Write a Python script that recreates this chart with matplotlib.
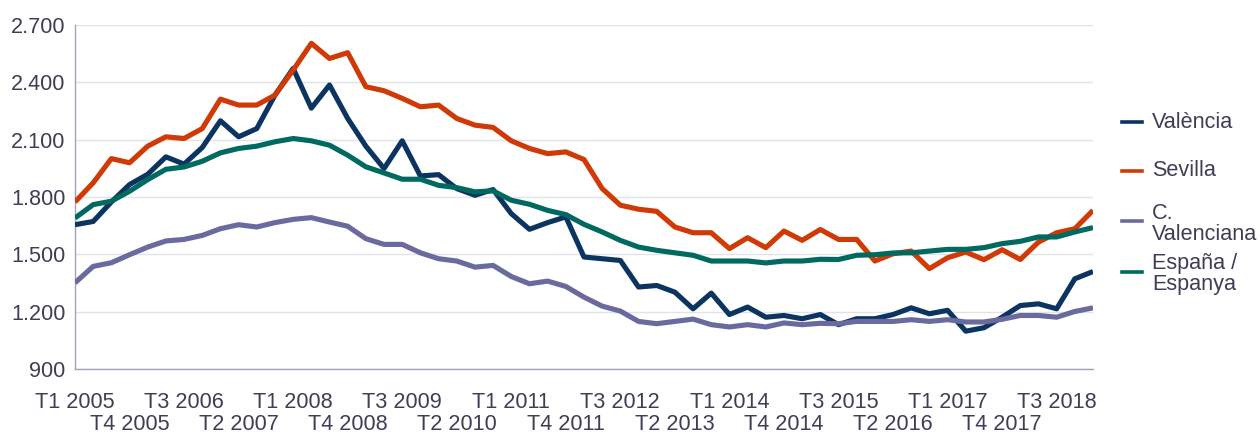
import matplotlib
matplotlib.use("Agg")
import matplotlib.pyplot as plt
from matplotlib.lines import Line2D
from matplotlib.ticker import FixedLocator, FuncFormatter

plt.rcParams['font.family'] = ['Liberation Sans', 'DejaVu Sans']

# Quarterly series, T1 2005 .. T1 2019 (euros per m2)
valencia = [1655, 1672, 1774, 1865, 1919, 2010, 1972, 2059, 2199, 2115,
            2158, 2333, 2473, 2265, 2386, 2211, 2066, 1949, 2094, 1910,
            1917, 1844, 1809, 1839, 1713, 1631, 1666, 1696, 1486, 1477,
            1468, 1329, 1337, 1302, 1215, 1297, 1185, 1224, 1171, 1180,
            1163, 1185, 1132, 1163, 1163, 1185, 1220, 1189, 1207, 1098,
            1116, 1171, 1232, 1241, 1215, 1372, 1410]
sevilla = [1774, 1874, 2001, 1979, 2066, 2115, 2106, 2158, 2312, 2281,
           2281, 2333, 2464, 2604, 2525, 2555, 2377, 2356, 2316, 2272,
           2281, 2211, 2176, 2164, 2094, 2054, 2027, 2036, 1996, 1844,
           1757, 1736, 1725, 1643, 1613, 1613, 1530, 1587, 1535, 1622,
           1573, 1630, 1578, 1578, 1465, 1503, 1517, 1425, 1482, 1512,
           1472, 1524, 1473, 1564, 1613, 1634, 1730]
c_valenciana = [1351, 1437, 1456, 1498, 1538, 1570, 1578, 1599, 1634, 1655,
                1643, 1666, 1683, 1692, 1669, 1647, 1582, 1552, 1552, 1508,
                1477, 1465, 1433, 1442, 1384, 1346, 1360, 1332, 1276, 1229,
                1203, 1149, 1137, 1149, 1161, 1132, 1120, 1132, 1120, 1141,
                1132, 1139, 1137, 1149, 1149, 1149, 1158, 1149, 1158, 1146,
                1146, 1160, 1180, 1180, 1171, 1201, 1220]
espana = [1690, 1760, 1778, 1830, 1891, 1945, 1957, 1987, 2031, 2054,
          2066, 2089, 2106, 2094, 2071, 2019, 1958, 1926, 1893, 1893,
          1861, 1849, 1827, 1832, 1783, 1762, 1730, 1708, 1657, 1617,
          1573, 1538, 1521, 1508, 1495, 1465, 1465, 1465, 1455, 1465,
          1465, 1474, 1473, 1495, 1498, 1507, 1508, 1517, 1526, 1526,
          1535, 1556, 1568, 1591, 1591, 1617, 1640]

years = list(range(2005, 2020))
quarters = [f"T{q} {y}" for y in years for q in (1, 2, 3, 4)][:len(espana)]

tick_labels = ["T1 2005", "T4 2005", "T3 2006", "T2 2007", "T1 2008",
               "T4 2008", "T3 2009", "T2 2010", "T1 2011", "T4 2011",
               "T3 2012", "T2 2013", "T1 2014", "T4 2014", "T3 2015",
               "T2 2016", "T1 2017", "T4 2017", "T3 2018"]
y_ticks = [900, 1200, 1500, 1800, 2100, 2400, 2700]

series = [
    ("València", valencia, "#0B3461"),
    ("Sevilla", sevilla, "#CF3A06"),
    ("C.\nValenciana", c_valenciana, "#6A6A9E"),
    ("España /\nEspanya", espana, "#006A60"),
]

TEXT = "#3E3E56"
FS = 15.6

W, H = 1260, 434
fig = plt.figure(figsize=(W / 100, H / 100), dpi=100)
ax = fig.add_axes([75 / W, 1 - 369 / H, (1093 - 75) / W, (369 - 25) / H])

x = list(range(len(quarters)))
for name, vals, color in series:
    ax.plot(x, vals, color=color, lw=3.7, solid_joinstyle="round",
            solid_capstyle="butt", zorder=3)

ax.set_xlim(0, len(quarters) - 1)
ax.set_ylim(y_ticks[0], y_ticks[-1])

ax.set_yticks(y_ticks)
ax.yaxis.set_major_formatter(FuncFormatter(lambda v, p: f"{int(v):,}".replace(",", ".")))
ax.tick_params(axis="y", length=0, pad=7, labelsize=FS, labelcolor=TEXT)
ax.grid(axis="y", color="#E2E2EA", lw=1.0, zorder=0)

# staggered category labels: two rows of ticks
pos = [quarters.index(t) for t in tick_labels]
ax.xaxis.set_major_locator(FixedLocator(pos[0::2]))
ax.set_xticklabels(tick_labels[0::2])
ax.xaxis.set_minor_locator(FixedLocator(pos[1::2]))
ax.set_xticklabels(tick_labels[1::2], minor=True)
ax.tick_params(axis="x", which="major", length=0, pad=16.5, labelsize=FS, labelcolor=TEXT)
ax.tick_params(axis="x", which="minor", length=0, pad=32.5, labelsize=FS, labelcolor=TEXT)

for s in ("top", "right"):
    ax.spines[s].set_visible(False)
for s in ("left", "bottom"):
    ax.spines[s].set_color("#A2A2BE")
    ax.spines[s].set_linewidth(1.0)

# legend on the right
handle_y = [122, 171, 221, 272]
text_y = [122, 171, 224, 274]
for (name, vals, color), hy, ty in zip(series, handle_y, text_y):
    fig.add_artist(Line2D([1122 / W, 1142 / W], [1 - hy / H, 1 - hy / H],
                          color=color, lw=2.6, transform=fig.transFigure))
    fig.text(1152 / W, 1 - ty / H, name, fontsize=FS, color=TEXT,
             va="center", ha="left", linespacing=1.02)

fig.savefig("out.png", dpi=100, facecolor="white")
